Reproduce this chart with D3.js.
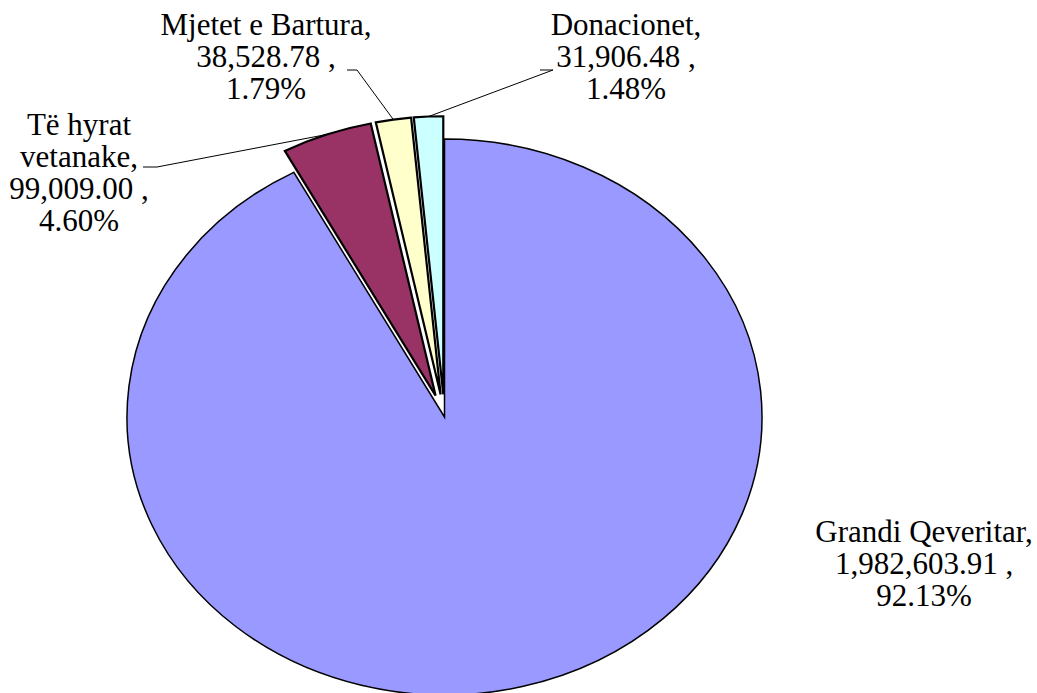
<!DOCTYPE html>
<html><head><meta charset="utf-8">
<script src="https://cdn.jsdelivr.net/npm/d3@7"></script>
<style>html,body{margin:0;padding:0;background:#fff;}svg{display:block;}</style>
</head><body>
<svg id="chart" width="1037" height="693"></svg>
<script>
// ---- data ----
const categories = ["Grandi Qeveritar", "Të hyrat vetanake", "Mjetet e Bartura", "Donacionet"];
const nameLines = [["Grandi Qeveritar,"], ["Të hyrat", "vetanake,"], ["Mjetet e Bartura,"], ["Donacionet,"]];
const values = [1982603.91, 99009.00, 38528.78, 31906.48];
const colors = ["#9999FF", "#993366", "#FFFFCC", "#CCFFFF"];
const exploded = [false, true, true, true];

// ---- layout ----
const W = 1037, H = 693;
const cx = 444.5, cy = 417, rx = 317.5, ry = 278;
const sy = ry / rx;
const explodeDist = 26;
const labelLayout = [
  {x: 924, y: 542, lead: null},
  {x: 79, y: 135, lead: [[143, 167], [157, 167]]},
  {x: 266, y: 35, lead: [[347, 70], [357, 70]]},
  {x: 626, y: 35, lead: [[540, 70], [553, 70]]}
];
const lineH = 32;

const svg = d3.select("#chart");
const total = d3.sum(values);
const pie = d3.pie().sort(null).value(d => d)(values);
const arc = d3.arc().innerRadius(0).outerRadius(rx);

const fmtV = d3.format(",.2f");
const fmtP = d3.format(".2%");

function offset(d, i) {
  if (!exploded[i]) return [0, 0];
  const a = (d.startAngle + d.endAngle) / 2;
  return [explodeDist * Math.sin(a), -explodeDist * Math.cos(a)];
}

const g = svg.append("g").attr("transform", `translate(${cx},${cy}) scale(1,${sy})`);
g.selectAll("path").data(pie).enter().append("path")
  .attr("d", arc)
  .attr("transform", (d, i) => { const o = offset(d, i); return `translate(${o[0]},${o[1]})`; })
  .attr("fill", (d, i) => colors[i])
  .attr("stroke", "#000")
  .attr("stroke-width", (d, i) => i === 0 ? 1.5 : 2.2)
  .attr("stroke-linejoin", "miter")
  .attr("vector-effect", "non-scaling-stroke");

pie.forEach((d, i) => {
  const L = labelLayout[i];
  if (!L.lead) return;
  const a = (d.startAngle + d.endAngle) / 2;
  const o = offset(d, i);
  const px = cx + rx * Math.sin(a) + o[0];
  const py = cy + (-rx * Math.cos(a) + o[1]) * sy;
  svg.append("path")
    .attr("d", d3.line()([L.lead[0], L.lead[1], [px, py]]))
    .attr("fill", "none")
    .attr("stroke", "#000")
    .attr("stroke-width", 1);
});

pie.forEach((d, i) => {
  const L = labelLayout[i];
  const lines = nameLines[i].concat([fmtV(values[i]) + " ,", fmtP(values[i] / total)]);
  lines.forEach((ln, k) => {
    svg.append("text")
      .attr("x", L.x).attr("y", L.y + k * lineH)
      .attr("text-anchor", "middle")
      .style("font-family", '"Liberation Serif"')
      .style("font-size", "31px")
      .style("fill", "#000")
      .text(ln);
  });
});
</script>
</body></html>
